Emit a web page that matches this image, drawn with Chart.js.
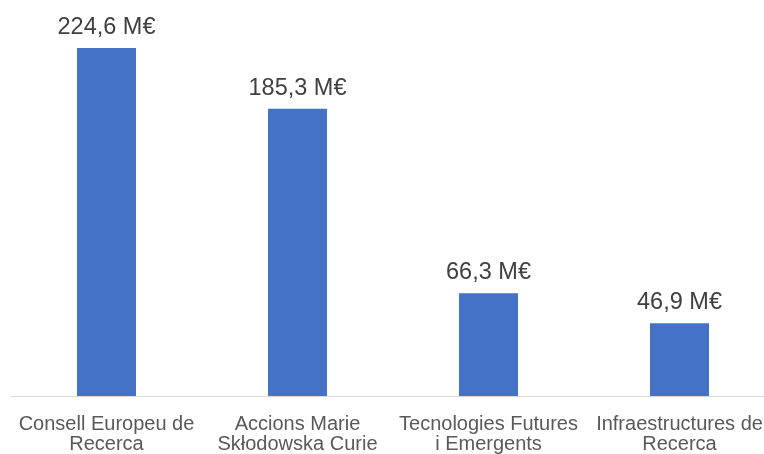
<!DOCTYPE html>
<html><head><meta charset="utf-8">
<script src="https://cdn.jsdelivr.net/npm/chart.js@4/dist/chart.umd.min.js"></script>
<style>
html,body{margin:0;padding:0;background:#fff;overflow:hidden;width:764px;height:454px}
#wrap{width:780px;height:454px;position:relative}
</style></head><body>
<div id="wrap"><canvas id="c" width="780" height="454"></canvas></div>
<script>
const categories = [
  ['Consell Europeu de','Recerca'],
  ['Accions Marie','Skłodowska Curie'],
  ['Tecnologies Futures','i Emergents'],
  ['Infraestructures de','Recerca']
];
const values = [224.6, 185.3, 66.3, 46.9];
const valueLabels = ['224,6 M€','185,3 M€','66,3 M€','46,9 M€'];

const labelPlugin = {
  id:'vlabels',
  afterDatasetsDraw(chart){
    const ctx = chart.ctx;
    const meta = chart.getDatasetMeta(0);
    ctx.save();
    ctx.font = '23.5px "Liberation Sans", Arial, sans-serif';
    ctx.fillStyle = '#404040';
    ctx.textAlign = 'center';
    ctx.textBaseline = 'alphabetic';
    meta.data.forEach((bar,i)=>{
      ctx.fillText(valueLabels[i], bar.x, bar.y - 14);
    });
    ctx.restore();
  }
};

new Chart(document.getElementById('c'), {
  type:'bar',
  data:{labels:categories, datasets:[{data:values, backgroundColor:'#4472C4', borderWidth:0,
    categoryPercentage:1, barPercentage:0.309}]},
  options:{
    responsive:false, animation:false,
    layout:{padding:{left:11,right:5,top:8.6,bottom:0}},
    plugins:{legend:{display:false},tooltip:{enabled:false}},
    scales:{
      y:{display:false,min:0,max:250},
      x:{
        grid:{display:false},
        border:{display:true,color:'#D9D9D9',width:1},
        ticks:{color:'#595959',font:{family:'"Liberation Sans", Arial, sans-serif',size:20,lineHeight:0.97},padding:11,maxRotation:0,autoSkip:false},
        afterFit(s){s.height = 58;}
      }
    }
  },
  plugins:[labelPlugin]
});
</script>
</body></html>
